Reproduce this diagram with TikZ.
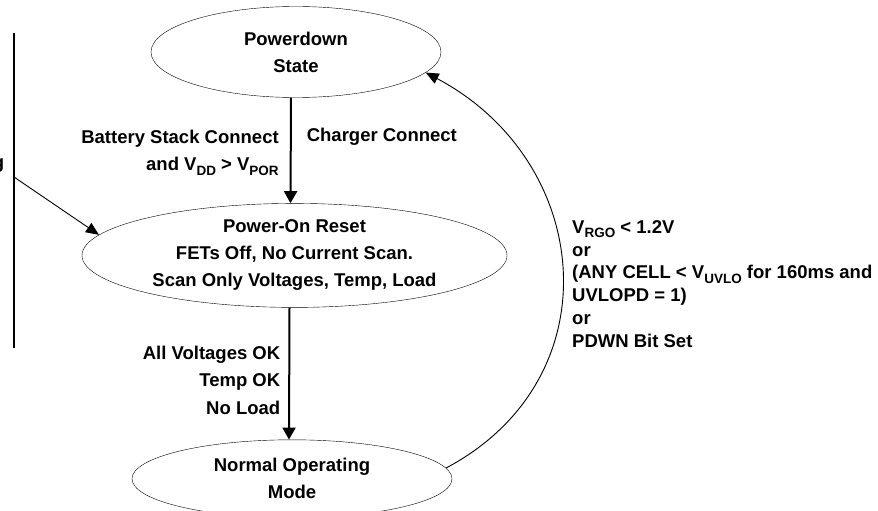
\documentclass[tikz,border=0pt]{standalone}
\usepackage{fontspec}
\setmainfont{Liberation Sans}
\usetikzlibrary{positioning, arrows.meta, shapes.geometric}
\newcommand\lowsub[1]{\raisebox{-4.5pt}{\fontsize{13.5}{13.5}\selectfont #1}}
\tikzset{
  state/.style={draw, ellipse, inner sep=0pt, align=center, font=\bfseries\fontsize{18.5}{27}\selectfont},
  arr/.style={-{Triangle[length=12pt, width=13pt]}, line width=2pt},
  thinarr/.style={-{Triangle[length=13pt, width=11pt]}, line width=0.9pt},
  lbl/.style={inner sep=0pt, font=\bfseries\fontsize{18.5}{27.5}\selectfont}
}

\begin{document}
\begin{tikzpicture}[x=1pt, y=-1pt]
\clip (0,0) rectangle (878,511);
% states
\node[state, minimum width=290pt, minimum height=91pt] (pd) at (296,52) {Powerdown\\State};
\node[state, minimum width=425pt, minimum height=104pt, below=105.5pt of pd, xshift=-1.5pt] (por) {Power-On Reset\\FETs Off, No Current Scan.\\Scan Only Voltages, Temp, Load};
\node[state, minimum width=320pt, minimum height=78pt, below=132pt of por, xshift=-2.5pt] (nom) {Normal Operating\\Mode};
% left edge
\draw[line width=2pt] (14,33) -- (14,348);
\node[lbl, anchor=east] (frag) at (4.5,165.5) {g};
\coordinate (src) at (14,177);
% transitions
\draw[arr] ([xshift=-5pt]pd.south) -- node[lbl, pos=0.52, left=11pt, align=right] (bsc) {Battery Stack Connect\\and V\lowsub{DD} > V\lowsub{POR}} node[lbl, pos=0.37, right=15pt] (cc) {Charger Connect} ([xshift=-4pt]por.north);
\draw[arr] ([xshift=-5pt]por.south) -- node[lbl, pos=0.55, left=8pt, align=right] (ok) {All Voltages OK\\Temp OK\\No Load} ([xshift=-3pt]nom.north);
\draw[thinarr] (src) -- (por.174);
\draw[thinarr] (nom.4) .. controls +(168,-89) and +(168,89) .. (pd.-9);
\node[lbl, anchor=west, align=left, font=\bfseries\fontsize{18.5}{22.8}\selectfont] (cond) at (572,284) {V\lowsub{RGO} < 1.2V\\or\\(ANY CELL < V\lowsub{UVLO} for 160ms and\\UVLOPD = 1)\\or\\PDWN Bit Set};
\end{tikzpicture}
\end{document}
